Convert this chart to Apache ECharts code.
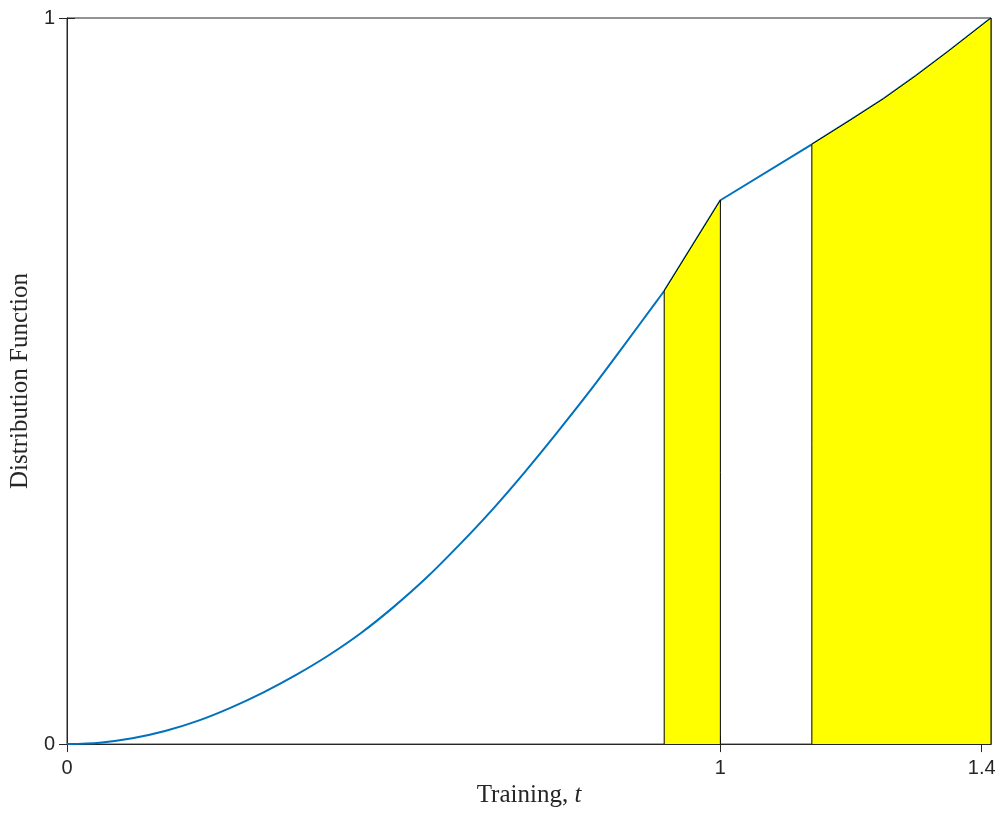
<!DOCTYPE html>
<html>
<head>
<meta charset="utf-8">
<script src="https://cdn.jsdelivr.net/npm/echarts@6/dist/echarts.min.js"></script>
<style>
html,body{margin:0;padding:0;background:#fff;}
#chart{width:999px;height:813px;}
</style>
</head>
<body>
<div id="chart"></div>
<script>
// Distribution function curve (t, F)
const riseT = [0, 0.05, 0.1, 0.15, 0.2, 0.25, 0.3, 0.35, 0.4, 0.45, 0.5, 0.55, 0.6, 0.65, 0.7, 0.75, 0.8, 0.85, 0.9, 0.914];
const riseF = [0, 0.002, 0.008, 0.018, 0.032, 0.050, 0.071, 0.095, 0.122, 0.153, 0.189, 0.229, 0.274, 0.322, 0.374, 0.429, 0.486, 0.546, 0.607, 0.624];
const kinkT = [0.914, 1.0, 1.14];
const kinkF = [0.624, 0.749, 0.826];
const tailT = [1.14, 1.2, 1.25, 1.3, 1.35, 1.4142];
const tailF = [0.826, 0.860, 0.889, 0.921, 0.955, 1.0];
// Shaded intervals
const shadeA = [0.914, 1.0];
const shadeB = [1.14, 1.4142];
const xTicks = [0, 1, 1.4];
const yTicks = [0, 1];
const xMax = 1.4142;

const allT = riseT.concat(kinkT.slice(1), tailT.slice(1));
const allF = riseF.concat(kinkF.slice(1), tailF.slice(1));
function pair(ts, fs) { return ts.map((t, i) => [t, fs[i]]); }
function shade(lo, hi) {
  const out = [[lo, 0]];
  allT.forEach((t, i) => { if (t >= lo - 1e-9 && t <= hi + 1e-9) out.push([t, allF[i]]); });
  out.push([hi, 0]);
  return out;
}

const axisCol = '#262626';
const tickFont = {fontFamily: "'Liberation Sans', Arial, sans-serif", fontSize: 20, color: '#262626'};
const nameFont = {fontFamily: "'Liberation Serif', 'Times New Roman', serif", fontSize: 25, color: '#262626'};

const blue = {color: '#0072BD', width: 2};
const chart = echarts.init(document.getElementById('chart'));
chart.setOption({
  animation: false,
  backgroundColor: '#fff',
  grid: {left: 65, right: 8, top: 18, bottom: 65, show: true, borderColor: axisCol, borderWidth: 1, backgroundColor: 'transparent'},
  xAxis: [{
    type: 'value', min: 0, max: xMax, position: 'bottom',
    name: '{n|Training, }{i|t}', nameLocation: 'middle', nameGap: 36,
    nameTextStyle: {rich: {n: nameFont, i: Object.assign({}, nameFont, {fontStyle: 'italic'})}},
    axisLine: {show: true, onZero: false, lineStyle: {color: axisCol}},
    axisTick: {show: true, inside: true, length: 8, lineStyle: {color: axisCol}, customValues: xTicks},
    axisLabel: Object.assign({margin: 14, customValues: xTicks, formatter: v => String(v)}, tickFont),
    splitLine: {show: false}
  }, {
    type: 'value', min: 0, max: xMax, position: 'top',
    axisLine: {show: true, lineStyle: {color: axisCol}},
    axisTick: {show: true, inside: true, length: 8, lineStyle: {color: axisCol}, customValues: xTicks},
    axisLabel: {show: false}, splitLine: {show: false}
  }],
  yAxis: [{
    type: 'value', min: 0, max: 1, position: 'left',
    name: 'Distribution Function', nameLocation: 'middle', nameGap: 31,
    nameTextStyle: nameFont,
    axisLine: {show: true, onZero: false, lineStyle: {color: axisCol}},
    axisTick: {show: true, inside: true, length: 8, lineStyle: {color: axisCol}, customValues: yTicks},
    axisLabel: Object.assign({margin: 12, customValues: yTicks, formatter: v => String(v)}, tickFont),
    splitLine: {show: false}
  }, {
    type: 'value', min: 0, max: 1, position: 'right',
    axisLine: {show: true, lineStyle: {color: axisCol}},
    axisTick: {show: true, inside: true, length: 8, lineStyle: {color: axisCol}, customValues: yTicks},
    axisLabel: {show: false}, splitLine: {show: false}
  }],
  series: [
    {type: 'line', data: pair(riseT, riseF), showSymbol: false, smooth: 0.3, z: 2, lineStyle: blue},
    {type: 'line', data: pair(kinkT, kinkF), showSymbol: false, smooth: false, z: 2, lineStyle: blue},
    {type: 'line', data: pair(tailT, tailF), showSymbol: false, smooth: false, z: 2, lineStyle: blue},
    {type: 'line', data: shade(shadeA[0], shadeA[1]), showSymbol: false, z: 3,
     lineStyle: {color: '#000', width: 1}, areaStyle: {color: '#FFFF00', opacity: 1, origin: 'start'}},
    {type: 'line', data: shade(shadeB[0], shadeB[1]), showSymbol: false, z: 3,
     lineStyle: {color: '#000', width: 1}, areaStyle: {color: '#FFFF00', opacity: 1, origin: 'start'}}
  ]
});
</script>
</body>
</html>
